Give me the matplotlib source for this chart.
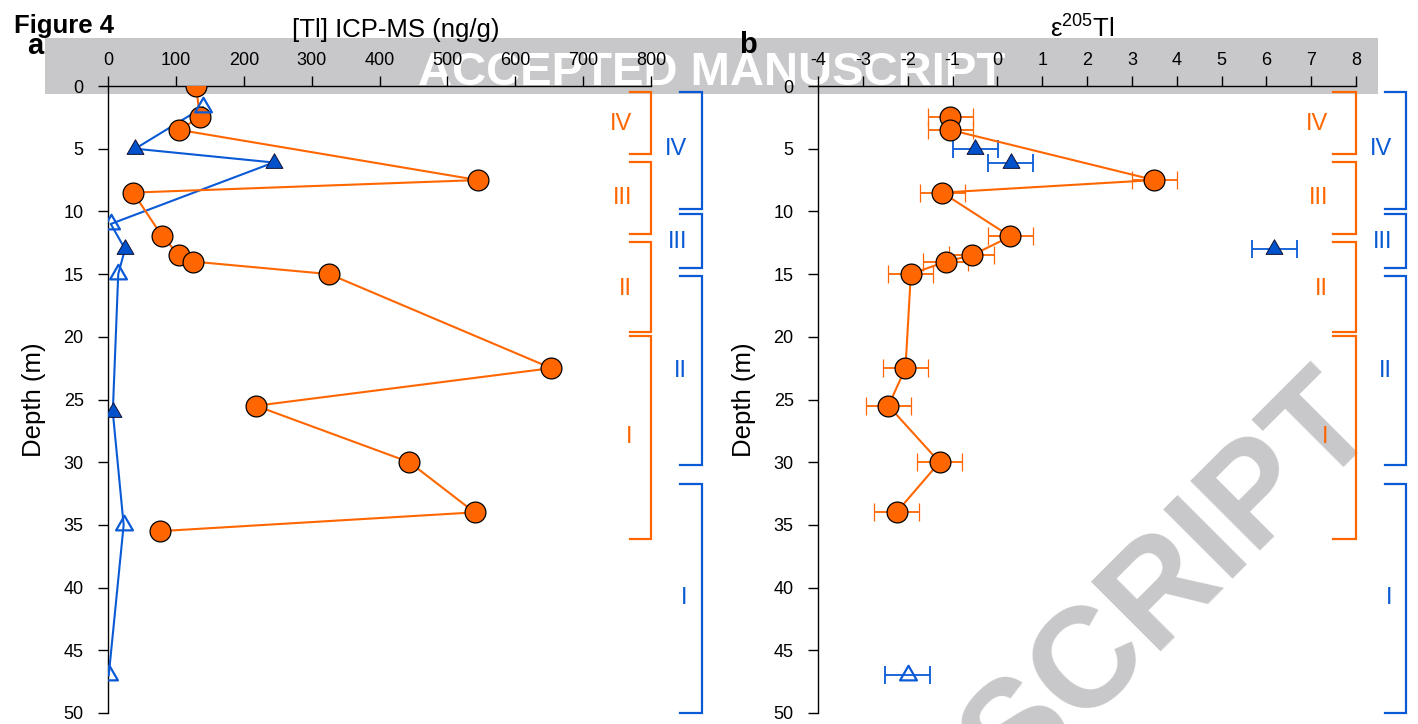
import numpy as np
import matplotlib
matplotlib.use("Agg")
import matplotlib.pyplot as plt
from matplotlib.path import Path
from matplotlib.patches import Rectangle

plt.rcParams['font.family'] = ['Liberation Sans', 'DejaVu Sans']
plt.rcParams['axes.unicode_minus'] = False
plt.rcParams['mathtext.fontset'] = 'custom'
plt.rcParams['mathtext.rm'] = 'Liberation Sans'
plt.rcParams['mathtext.default'] = 'regular'

# ---- data ----
# panel a: [Tl] by ICP-MS
depth_tl_orange = [0, 2.5, 3.5, 7.5, 8.5, 12, 13.5, 14, 15, 22.5, 25.5, 30, 34, 35.5]
tl_orange = [130, 135, 105, 545, 37, 80, 105, 125, 326, 653, 218, 444, 540, 76]

depth_tl_blue = [1.7, 5, 6.1, 11, 13, 15, 26, 35, 47]
tl_blue = [140, 40, 244, 4, 25, 15, 7, 23, 1]
tl_blue_filled = [False, True, True, False, True, False, True, False, False]

# panel b: epsilon 205Tl
depth_eps_orange = [2.5, 3.5, 7.5, 8.5, 12, 13.5, 14, 15, 22.5, 25.5, 30, 34]
eps_orange = [-1.05, -1.05, 3.5, -1.23, 0.29, -0.57, -1.15, -1.93, -2.05, -2.43, -1.29, -2.25]
eps_orange_err = [0.5] * 12

depth_eps_blue = [5, 6.1, 13, 47]
eps_blue = [-0.49, 0.3, 6.18, -2.0]
eps_blue_err = [0.5] * 4
eps_blue_filled = [True, True, True, False]

# stratigraphic units
unit_names = ['IV', 'III', 'II', 'I']
orange_units = [(0.45, 5.45), (6.05, 11.8), (12.4, 19.65), (19.95, 36.1)]
orange_label_depth = [3.0, 8.9, 16.2, 28.0]
blue_units = [(0.45, 9.8), (10.2, 14.55), (15.15, 30.2), (31.75, 50.0)]
blue_label_depth = [5.05, 12.45, 22.7, 40.8]

ORANGE = '#FF6600'
BLUE = '#0A5AD6'
GREY = '#C8C8CA'

# equilateral triangle centred on its centroid
tri = Path([(0, 0.577), (-0.5, -0.289), (0.5, -0.289), (0, 0.577)],
           [Path.MOVETO, Path.LINETO, Path.LINETO, Path.CLOSEPOLY])


def style_axis(ax, xlim, xticks, xlabel, xlabel_x):
    ax.set_facecolor('none')
    ax.set_xlim(*xlim)
    ax.set_ylim(50, 0)
    ax.set_xticks(xticks)
    ax.set_yticks(np.arange(0, 51, 5))
    ax.xaxis.tick_top()
    for s in ['bottom', 'right']:
        ax.spines[s].set_visible(False)
    for s in ['left', 'top']:
        ax.spines[s].set_linewidth(1.0)
    ax.tick_params(axis='x', direction='out', length=7, width=1.0, pad=5, labelsize=13)
    ax.tick_params(axis='y', direction='out', length=7.5, width=1.0, pad=10, labelsize=13)
    ax.text(xlabel_x, 1.078, xlabel, transform=ax.transAxes, fontsize=18.5,
            ha='center', va='baseline')
    ax.set_ylabel('Depth (m)', fontsize=18.5, labelpad=13)


def brackets(ax, x, x_tick, x_label, units, label_depth, color):
    for (top, bot), name, yl in zip(units, unit_names, label_depth):
        ax.plot([x_tick, x, x, x_tick], [top, top, bot, bot], color=color,
                lw=1.6, clip_on=False, solid_joinstyle='miter')
        ax.text(x_label, yl, name, color=color, fontsize=17, ha='right', va='center',
                clip_on=False)


def triangles(ax, xs, ys, filled):
    for x, y, f in zip(xs, ys, filled):
        if f:
            ax.plot(x, y, marker=tri, ms=14, mfc='#0052CC', mec='#111133', mew=0.7,
                    ls='none', zorder=5)
        else:
            ax.plot(x, y, marker=tri, ms=14, mfc='none', mec=BLUE, mew=1.6,
                    ls='none', zorder=5)


fig = plt.figure(figsize=(14.18, 7.24), dpi=100)

# manuscript watermark (under everything)
fig.patches.append(Rectangle((0.0317, 0.8695), 0.9401, 0.0785, transform=fig.transFigure,
                             facecolor=GREY, edgecolor='none', zorder=-3))
fig.text(0.502, 0.8826, 'ACCEPTED MANUSCRIPT', color='white', fontsize=34, weight='bold',
         ha='center', va='baseline', zorder=-2)
fig.text(0.9746, 0.4075, 'ACCEPTED MANUSCRIPT', color=GREY, fontsize=102, weight='bold',
         rotation=45, rotation_mode='anchor', ha='right', va='baseline', zorder=-2)

ax1 = fig.add_axes([0.0762, 0.0152, 0.3829, 0.866])
ax2 = fig.add_axes([0.5769, 0.0152, 0.3794, 0.866])

# ---- panel a ----
style_axis(ax1, (0, 800), np.arange(0, 801, 100), '[Tl] ICP-MS (ng/g)', 0.529)
ax1.plot(tl_orange, depth_tl_orange, color=ORANGE, lw=1.5, marker='o', ms=15,
         mfc=ORANGE, mec='black', mew=0.9, zorder=4)
ax1.plot(tl_blue, depth_tl_blue, color=BLUE, lw=1.5, zorder=3)
triangles(ax1, tl_blue, depth_tl_blue, tl_blue_filled)
brackets(ax1, 800, 769, 772, orange_units, orange_label_depth, ORANGE)
brackets(ax1, 875, 843, 853, blue_units, blue_label_depth, BLUE)

# ---- panel b ----
style_axis(ax2, (-4, 8), np.arange(-4, 9, 1), 'ε$^{205}$Tl', 0.491)
ax2.errorbar(eps_orange, depth_eps_orange, xerr=eps_orange_err, color=ORANGE, lw=1.5,
             elinewidth=1.3, capsize=6.5, capthick=1.3, marker='o', ms=15,
             mfc=ORANGE, mec='black', mew=0.9, zorder=4)
ax2.errorbar(eps_blue, depth_eps_blue, xerr=eps_blue_err, color=BLUE, ls='none',
             elinewidth=1.3, capsize=6.5, capthick=1.3, zorder=3)
triangles(ax2, eps_blue, depth_eps_blue, eps_blue_filled)
brackets(ax2, 8, 7.49, 7.38, orange_units, orange_label_depth, ORANGE)
brackets(ax2, 9.12, 8.65, 8.80, blue_units, blue_label_depth, BLUE)

fig.text(0.0099, 0.955, 'Figure 4', fontsize=18.5, weight='bold', va='baseline')
fig.text(0.019, 0.925, 'a', fontsize=21, weight='bold', va='baseline')
fig.text(0.521, 0.927, 'b', fontsize=21, weight='bold', va='baseline')

fig.savefig('out.png', dpi=100)
